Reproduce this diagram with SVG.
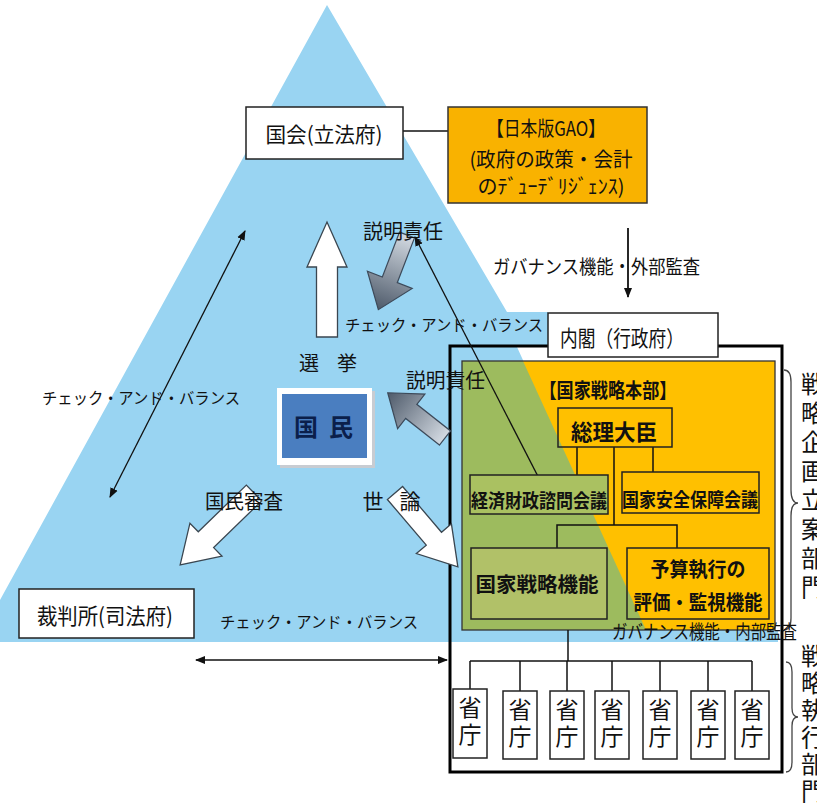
<svg xmlns="http://www.w3.org/2000/svg" width="817" height="804" viewBox="0 0 817 804">
<style>
.t{font-family:"Noto Sans CJK JP","Noto Sans CJK SC",sans-serif;fill:#111}
.b{font-weight:bold}
.v{writing-mode:vertical-rl;text-orientation:upright}
.box{fill:#fff;stroke:#222;stroke-width:1.5}
.ln{stroke:#111;stroke-width:1.5;fill:none}
.dbl{stroke:#111;stroke-width:1.3;fill:none;marker-start:url(#ah);marker-end:url(#ah)}
.warr{fill:#fff;stroke:#3a4650;stroke-width:1.3}
.garr{fill:url(#gg);stroke:#3d4a5a;stroke-width:1.2}
.ib{fill:none;stroke:#222;stroke-width:1.5}
.br{fill:none;stroke:#444;stroke-width:1.3}
</style>
<defs>
<marker id="ah" viewBox="0 0 10 10" refX="9" refY="5" markerWidth="10" markerHeight="10" markerUnits="userSpaceOnUse" orient="auto-start-reverse"><path d="M0,1 L10,5 L0,9 Z" fill="#111"/></marker>
<linearGradient id="gg" x1="0" y1="0" x2="1" y2="0"><stop offset="0" stop-color="#d3dae2"/><stop offset="1" stop-color="#4e5a6a"/></linearGradient>
</defs>

<!-- background triangle -->
<polygon points="327,5 507,312 548,312 548,347 517,347 646,630 778,630 778,642 0,642 0,600" fill="#99d4f2"/>

<g id="cabinet">
<rect x="450" y="346" width="332" height="426" fill="none" stroke="#000" stroke-width="3"/>
</g>
<g id="honbu">
<rect x="462" y="361" width="313" height="269" fill="#ffc000"/>
<polygon points="523,361 462,361 462,630 646,630" fill="#9dbb5e"/>
<rect x="462" y="361" width="313" height="269" fill="none" stroke="#333" stroke-width="1.3"/>
<text class="t b" x="608" y="398" font-size="20" text-anchor="middle" textLength="137" lengthAdjust="spacingAndGlyphs">【国家戦略本部】</text>
</g>
<g id="naikaku">
<rect class="box" x="548" y="313" width="170" height="44"/>
<text class="t" x="622" y="346" font-size="22" text-anchor="middle" textLength="124" lengthAdjust="spacingAndGlyphs">内閣（行政府）</text>
</g>

<g id="connectors">
<line class="ln" x1="403" y1="131" x2="448" y2="131"/>
<line x1="628" y1="228" x2="628" y2="297" stroke="#111" stroke-width="1.8" marker-end="url(#ah)"/>
<line class="dbl" x1="245" y1="231" x2="110" y2="497"/>
<line class="dbl" x1="196" y1="660" x2="447" y2="660"/>
<line class="dbl" x1="415" y1="237" x2="546" y2="492"/>
<line class="ln" x1="577" y1="447" x2="577" y2="475"/>
<line class="ln" x1="653" y1="447" x2="653" y2="472"/>
<line class="ln" x1="614" y1="447" x2="614" y2="525"/>
<polyline class="ln" points="557,548 557,525 677,525 677,548"/>
<line class="ln" x1="568" y1="630" x2="568" y2="661"/>
<line class="ln" x1="470" y1="661" x2="752" y2="661"/>
<line class="ln" x1="470" y1="661" x2="470" y2="689"/>
<line class="ln" x1="520" y1="661" x2="520" y2="691"/>
<line class="ln" x1="567" y1="661" x2="567" y2="691"/>
<line class="ln" x1="612" y1="661" x2="612" y2="691"/>
<line class="ln" x1="660" y1="661" x2="660" y2="691"/>
<line class="ln" x1="708" y1="661" x2="708" y2="691"/>
<line class="ln" x1="752" y1="661" x2="752" y2="691"/>
<path class="br" d="M784,370 Q791,370 791,382 L791,490 Q791,503 798,503 Q791,503 791,516 L791,618 Q791,630 784,630"/>
<path class="br" d="M786,662 Q792,662 792,672 L792,708 Q792,717 798,717 Q792,717 792,726 L792,762 Q792,772 786,772"/>
<path class="warr" d="M0,-10.5 L70,-10.5 L70,-20 L115,0 L70,20 L70,10.5 L0,10.5 Z" transform="translate(327,337) rotate(-90)"/>
<path class="garr" d="M0,-8 L48,-8 L48,-24 L80,0 L48,24 L48,8 L0,8 Z" transform="translate(407,235) rotate(111)"/>
<path class="garr" d="M0,-9 L43,-9 L43,-22 L73,0 L43,22 L43,9 L0,9 Z" transform="translate(445,438) rotate(218.3)"/>
<path class="warr" d="M0,-11 L67,-11 L67,-23 L103,0 L67,23 L67,11 L0,11 Z" transform="translate(254,493) rotate(135.8)"/>
<path class="warr" d="M0,-10 L60,-10 L60,-23 L97,0 L60,23 L60,10 L0,10 Z" transform="translate(395,493) rotate(49.6)"/>
</g>

<g id="kokkai">
<rect class="box" x="246" y="107" width="157" height="52"/>
<text class="t" x="324" y="142" font-size="21" text-anchor="middle" textLength="117" lengthAdjust="spacingAndGlyphs">国会(立法府)</text>
</g>
<g id="gao">
<rect x="448" y="107" width="199" height="96" fill="#f9b200" stroke="#333" stroke-width="1.5"/>
<text class="t" x="546" y="136" font-size="20" text-anchor="middle" textLength="118" lengthAdjust="spacingAndGlyphs">【日本版GAO】</text>
<text class="t" x="551" y="167" font-size="20" text-anchor="middle" textLength="163" lengthAdjust="spacingAndGlyphs">(政府の政策・会計</text>
<text class="t" x="551" y="194" font-size="20" text-anchor="middle" textLength="147" lengthAdjust="spacingAndGlyphs">のﾃﾞｭｰﾃﾞﾘｼﾞｪﾝｽ)</text>
</g>
<g id="saibansho">
<rect class="box" x="19" y="589" width="175" height="49"/>
<text class="t" x="105" y="624" font-size="22" text-anchor="middle" textLength="136" lengthAdjust="spacingAndGlyphs">裁判所(司法府)</text>
</g>
<g id="kokumin">
<rect x="280" y="391" width="95" height="77" fill="#c8ccd2"/>
<rect x="277" y="388" width="95" height="77" fill="#fff"/>
<rect x="282" y="394" width="85" height="64" fill="#4a7ec0"/>
<text class="t b" x="306" y="436" font-size="24" text-anchor="middle" style="fill:#0b1f4b">国</text>
<text class="t b" x="341" y="436" font-size="24" text-anchor="middle" style="fill:#0b1f4b">民</text>
</g>

<g id="sori">
<rect class="ib" x="558" y="408" width="114" height="39"/>
<text class="t b" x="614" y="440" font-size="22" text-anchor="middle" textLength="86" lengthAdjust="spacingAndGlyphs">総理大臣</text>
</g>
<g id="keizai">
<rect x="470" y="475" width="138" height="39" fill="#aac161" stroke="#222" stroke-width="1.5"/>
<text class="t b" x="539" y="508" font-size="19" text-anchor="middle" textLength="136" lengthAdjust="spacingAndGlyphs">経済財政諮問会議</text>
</g>
<g id="anzen">
<rect class="ib" x="622" y="472" width="137" height="41"/>
<text class="t b" x="690" y="507" font-size="19" text-anchor="middle" textLength="136" lengthAdjust="spacingAndGlyphs">国家安全保障会議</text>
</g>
<g id="senryaku">
<rect x="471" y="548" width="136" height="71" fill="#b1c168" stroke="#222" stroke-width="1.5"/>
<text class="t b" x="537" y="592" font-size="20" text-anchor="middle" textLength="123" lengthAdjust="spacingAndGlyphs">国家戦略機能</text>
</g>
<g id="yosan">
<rect class="ib" x="627" y="548" width="142" height="71"/>
<text class="t b" x="698" y="577" font-size="20" text-anchor="middle" textLength="95" lengthAdjust="spacingAndGlyphs">予算執行の</text>
<text class="t b" x="698" y="610" font-size="20" text-anchor="middle" textLength="129" lengthAdjust="spacingAndGlyphs">評価・監視機能</text>
</g>

<g id="shocho">
<rect class="box" x="453" y="689" width="34" height="69"/>
<rect class="box" x="503" y="691" width="34" height="68"/>
<rect class="box" x="550" y="691" width="34" height="68"/>
<rect class="box" x="595" y="691" width="34" height="68"/>
<rect class="box" x="643" y="691" width="34" height="68"/>
<rect class="box" x="691" y="691" width="34" height="68"/>
<rect class="box" x="735" y="691" width="34" height="68"/>
<g font-size="23">
<text class="t v" x="470" y="696" letter-spacing="4">省庁</text>
<text class="t v" x="520" y="698" letter-spacing="4">省庁</text>
<text class="t v" x="567" y="698" letter-spacing="4">省庁</text>
<text class="t v" x="612" y="698" letter-spacing="4">省庁</text>
<text class="t v" x="660" y="698" letter-spacing="4">省庁</text>
<text class="t v" x="708" y="698" letter-spacing="4">省庁</text>
<text class="t v" x="752" y="698" letter-spacing="4">省庁</text>
</g>
</g>

<g id="labels">
<text class="t" x="493" y="274" font-size="19" textLength="207" lengthAdjust="spacingAndGlyphs">ガバナンス機能・外部監査</text>
<text class="t" x="612" y="639" font-size="19" textLength="185" lengthAdjust="spacingAndGlyphs">ガバナンス機能・内部監査</text>
<text class="t" x="363" y="239" font-size="20" textLength="80" lengthAdjust="spacingAndGlyphs">説明責任</text>
<text class="t" x="406" y="388" font-size="20" textLength="79" lengthAdjust="spacingAndGlyphs">説明責任</text>
<text class="t" x="309" y="371" font-size="20" text-anchor="middle">選</text>
<text class="t" x="347" y="371" font-size="20" text-anchor="middle">挙</text>
<text class="t" x="205" y="509" font-size="20" textLength="78" lengthAdjust="spacingAndGlyphs">国民審査</text>
<text class="t" x="373" y="509" font-size="21" text-anchor="middle">世</text>
<text class="t" x="410" y="509" font-size="21" text-anchor="middle">論</text>
<text class="t" x="42" y="404" font-size="16" textLength="198" lengthAdjust="spacingAndGlyphs">チェック・アンド・バランス</text>
<text class="t" x="345" y="331" font-size="16" textLength="198" lengthAdjust="spacingAndGlyphs">チェック・アンド・バランス</text>
<text class="t" x="220" y="628" font-size="16" textLength="198" lengthAdjust="spacingAndGlyphs">チェック・アンド・バランス</text>
</g>

<g id="side-labels" font-size="24">
<text class="t v" x="813" y="372" letter-spacing="5">戦略企画立案部門</text>
<text class="t v" x="813" y="644" letter-spacing="3">戦略執行部門</text>
</g>
</svg>
